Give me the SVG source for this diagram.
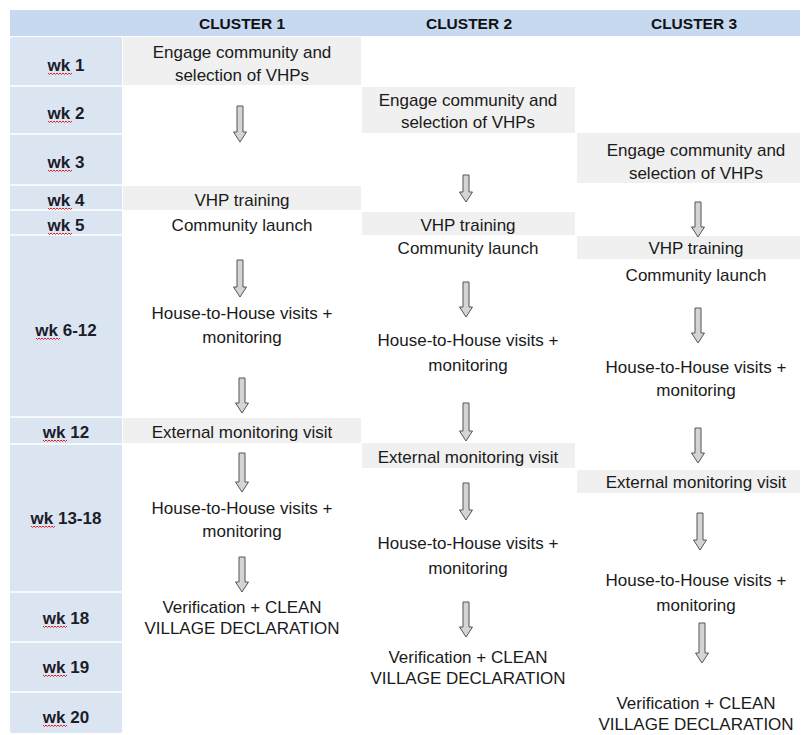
<svg xmlns="http://www.w3.org/2000/svg" xmlns:xlink="http://www.w3.org/1999/xlink" width="806" height="735" viewBox="0 0 806 735">
  <defs>
    <style>
      .hdr { font-family: "Liberation Sans", Arial, sans-serif; font-weight: bold; font-size: 15.5px; fill: #111; text-anchor: middle; }
      .wk { font-family: "Liberation Sans", Arial, sans-serif; font-weight: bold; font-size: 17px; fill: #1c1c2a; text-anchor: middle; }
      .t { font-family: "Liberation Sans", Arial, sans-serif; font-size: 17px; fill: #1a1a1a; text-anchor: middle; }
      .box { fill: #f0f0f0; }
      .arr { fill: #d4d4d4; stroke: #555; stroke-width: 1; stroke-linejoin: miter; }
      .sq { fill: none; stroke: #d22; stroke-width: 1; }
      .sep { stroke: #ffffff; stroke-width: 1.5; }
    </style>
    <path id="squig" class="sq" d="M0,0 l1.5,1.5 l1.5,-1.5 l1.5,1.5 l1.5,-1.5 l1.5,1.5 l1.5,-1.5 l1.5,1.5 l1.5,-1.5 l1.5,1.5 l1.5,-1.5 l1.5,1.5 l1.5,-1.5 l1.5,1.5 l1.5,-1.5 l1.5,1.5 l1.5,-1.5"/>
  </defs>
  <rect width="806" height="735" fill="#ffffff"/>

  <g id="header">
    <rect x="10" y="10" width="790" height="26" fill="#c6d9f0"/>
    <text class="hdr" x="242" y="29">CLUSTER 1</text>
    <text class="hdr" x="469" y="29">CLUSTER 2</text>
    <text class="hdr" x="694" y="29">CLUSTER 3</text>
  </g>

  <g id="weeks">
    <rect x="10" y="37" width="112" height="696" rx="2" fill="#dbe5f1"/>
    <line class="sep" x1="10" y1="86" x2="122" y2="86"/>
    <line class="sep" x1="10" y1="134" x2="122" y2="134"/>
    <line class="sep" x1="10" y1="185" x2="122" y2="185"/>
    <line class="sep" x1="10" y1="210" x2="122" y2="210"/>
    <line class="sep" x1="10" y1="235" x2="122" y2="235"/>
    <line class="sep" x1="10" y1="417" x2="122" y2="417"/>
    <line class="sep" x1="10" y1="444" x2="122" y2="444"/>
    <line class="sep" x1="10" y1="592" x2="122" y2="592"/>
    <line class="sep" x1="10" y1="642" x2="122" y2="642"/>
    <line class="sep" x1="10" y1="692" x2="122" y2="692"/>
    <g id="wk1"><text class="wk" x="66" y="71">wk 1</text><use xlink:href="#squig" x="48" y="73"/></g>
    <g id="wk2"><text class="wk" x="66" y="119">wk 2</text><use xlink:href="#squig" x="48" y="121"/></g>
    <g id="wk3"><text class="wk" x="66" y="168">wk 3</text><use xlink:href="#squig" x="48" y="170"/></g>
    <g id="wk4"><text class="wk" x="66" y="206">wk 4</text><use xlink:href="#squig" x="48" y="208"/></g>
    <g id="wk5"><text class="wk" x="66" y="231">wk 5</text><use xlink:href="#squig" x="48" y="233"/></g>
    <g id="wk6-12"><text class="wk" x="66" y="336">wk 6-12</text><use xlink:href="#squig" x="36" y="338"/></g>
    <g id="wk12"><text class="wk" x="66" y="438">wk 12</text><use xlink:href="#squig" x="43" y="440"/></g>
    <g id="wk13-18"><text class="wk" x="66" y="524">wk 13-18</text><use xlink:href="#squig" x="31" y="526"/></g>
    <g id="wk18"><text class="wk" x="66" y="624">wk 18</text><use xlink:href="#squig" x="43" y="626"/></g>
    <g id="wk19"><text class="wk" x="66" y="673">wk 19</text><use xlink:href="#squig" x="43" y="675"/></g>
    <g id="wk20"><text class="wk" x="66" y="723">wk 20</text><use xlink:href="#squig" x="43" y="725"/></g>
  </g>

  <!-- Cluster 1 -->
  <g id="c1-engage"><rect class="box" x="123" y="37" width="238" height="48"/><text class="t" x="242" y="58">Engage community and</text><text class="t" x="242" y="81">selection of VHPs</text></g>
  <g id="c1-training"><rect class="box" x="123" y="186" width="238" height="24"/><text class="t" x="242" y="206">VHP training</text></g>
  <g id="c1-launch"><text class="t" x="242" y="231">Community launch</text></g>
  <g id="c1-h2h1"><text class="t" x="242" y="319">House-to-House visits +</text><text class="t" x="242" y="343">monitoring</text></g>
  <g id="c1-ext"><rect class="box" x="123" y="418" width="238" height="25"/><text class="t" x="242" y="438">External monitoring visit</text></g>
  <g id="c1-h2h2"><text class="t" x="242" y="514">House-to-House visits +</text><text class="t" x="242" y="537">monitoring</text></g>
  <g id="c1-verify"><text class="t" x="242" y="613">Verification + CLEAN</text><text class="t" x="242" y="634">VILLAGE DECLARATION</text></g>

  <!-- Cluster 2 -->
  <g id="c2-engage"><rect class="box" x="362" y="87" width="213" height="46"/><text class="t" x="468" y="106">Engage community and</text><text class="t" x="468" y="128">selection of VHPs</text></g>
  <g id="c2-training"><rect class="box" x="362" y="212" width="213" height="23"/><text class="t" x="468" y="231">VHP training</text></g>
  <g id="c2-launch"><text class="t" x="468" y="254">Community launch</text></g>
  <g id="c2-h2h1"><text class="t" x="468" y="346">House-to-House visits +</text><text class="t" x="468" y="371">monitoring</text></g>
  <g id="c2-ext"><rect class="box" x="362" y="443" width="213" height="25"/><text class="t" x="468" y="463">External monitoring visit</text></g>
  <g id="c2-h2h2"><text class="t" x="468" y="549">House-to-House visits +</text><text class="t" x="468" y="574">monitoring</text></g>
  <g id="c2-verify"><text class="t" x="468" y="663">Verification + CLEAN</text><text class="t" x="468" y="684">VILLAGE DECLARATION</text></g>

  <!-- Cluster 3 -->
  <g id="c3-engage"><rect class="box" x="577" y="133" width="223" height="50"/><text class="t" x="696" y="156">Engage community and</text><text class="t" x="696" y="179">selection of VHPs</text></g>
  <g id="c3-training"><rect class="box" x="577" y="236" width="223" height="23"/><text class="t" x="696" y="254">VHP training</text></g>
  <g id="c3-launch"><text class="t" x="696" y="281">Community launch</text></g>
  <g id="c3-h2h1"><text class="t" x="696" y="373">House-to-House visits +</text><text class="t" x="696" y="396">monitoring</text></g>
  <g id="c3-ext"><rect class="box" x="577" y="470" width="223" height="23"/><text class="t" x="696" y="488">External monitoring visit</text></g>
  <g id="c3-h2h2"><text class="t" x="696" y="586">House-to-House visits +</text><text class="t" x="696" y="611">monitoring</text></g>
  <g id="c3-verify"><text class="t" x="696" y="709">Verification + CLEAN</text><text class="t" x="696" y="730">VILLAGE DECLARATION</text></g>

  <g id="connectors">
    <!-- Cluster 1 arrows -->
    <path class="arr" d="M237,106 H243 V132 H246.5 L240,142 L233.5,132 H237 Z"/>
    <path class="arr" d="M237,260 H243 V287 H246.5 L240,297 L233.5,287 H237 Z"/>
    <path class="arr" d="M239,378 H245 V403 H248.5 L242,413 L235.5,403 H239 Z"/>
    <path class="arr" d="M239,453 H245 V482 H248.5 L242,492 L235.5,482 H239 Z"/>
    <path class="arr" d="M239,557 H245 V582 H248.5 L242,592 L235.5,582 H239 Z"/>
    <!-- Cluster 2 arrows -->
    <path class="arr" d="M463,175 H469 V192 H472.5 L466,202 L459.5,192 H463 Z"/>
    <path class="arr" d="M463,282 H469 V307 H472.5 L466,317 L459.5,307 H463 Z"/>
    <path class="arr" d="M463,403 H469 V431 H472.5 L466,441 L459.5,431 H463 Z"/>
    <path class="arr" d="M463,483 H469 V510 H472.5 L466,520 L459.5,510 H463 Z"/>
    <path class="arr" d="M463,602 H469 V627 H472.5 L466,637 L459.5,627 H463 Z"/>
    <!-- Cluster 3 arrows -->
    <path class="arr" d="M695,202 H701 V227 H704.5 L698,237 L691.5,227 H695 Z"/>
    <path class="arr" d="M695,308 H701 V333 H704.5 L698,343 L691.5,333 H695 Z"/>
    <path class="arr" d="M695,428 H701 V453 H704.5 L698,463 L691.5,453 H695 Z"/>
    <path class="arr" d="M697,513 H703 V540 H706.5 L700,550 L693.5,540 H697 Z"/>
    <path class="arr" d="M699,623 H705 V653 H708.5 L702,663 L695.5,653 H699 Z"/>
  </g>
</svg>
